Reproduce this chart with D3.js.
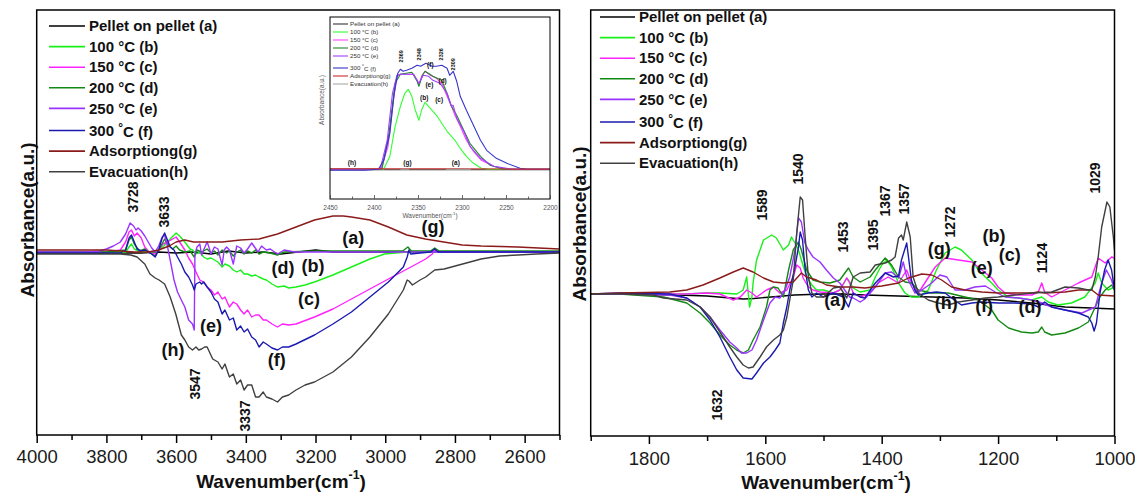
<!DOCTYPE html>
<html><head><meta charset="utf-8">
<script src="https://cdn.jsdelivr.net/npm/d3@7"></script>
<style>body{margin:0;background:#fff}svg{display:block}</style>
</head><body>
<svg id="c" width="1135" height="496"></svg>
<script>
// ---------- DATA ----------
const seriesLabels = ["Pellet on pellet (a)","100 °C (b)","150 °C (c)","200 °C (d)","250 °C (e)","300 °C (f)","Adsorptiong(g)","Evacuation(h)"];
const leftTicks = [4000,3800,3600,3400,3200,3000,2800,2600];
const leftMinor = [3900,3700,3500,3300,3100,2900,2700,2500];
const rightTicks = [1800,1600,1400,1200,1000];
const rightMinor = [1900,1700,1500,1300,1100];
const insetTicks = [2450,2400,2350,2300,2250,2200];
const insetMinor = [2425,2375,2325,2275,2225];

// left panel (OH region), [wavenumber, absorbance]
const L_a = [[4000,-0.01],[3900,-0.01],[3800,-0.01],[3700,-0.01],[3650,0],[3600,-0.01],[3550,0],[3500,-0.02],[3450,0.01],[3400,-0.01],[3350,0],[3300,-0.02],[3250,0],[3200,0.02],[3150,0],[3100,0],[3000,0],[2900,0],[2500,0]];
const L_b = [[4000,0],[3800,0],[3745,0],[3735,0.05],[3728,0.08],[3720,0.03],[3700,0],[3660,0],[3638,0.05],[3617,0.13],[3600,0.19],[3590,0.16],[3575,0.10],[3560,0.03],[3553,0.02],[3543,-0.02],[3532,0],[3521,-0.05],[3511,-0.07],[3500,-0.06],[3490,-0.08],[3480,-0.10],[3468,-0.15],[3460,-0.12],[3447,-0.14],[3436,-0.18],[3426,-0.20],[3415,-0.18],[3405,-0.22],[3395,-0.22],[3383,-0.24],[3372,-0.23],[3362,-0.25],[3350,-0.27],[3341,-0.28],[3325,-0.32],[3309,-0.35],[3290,-0.34],[3277,-0.36],[3256,-0.35],[3230,-0.33],[3203,-0.30],[3150,-0.23],[3097,-0.15],[3044,-0.07],[3002,-0.02],[2970,-0.01],[2937,0],[2500,0]];
const L_c = [[4000,0],[3800,0],[3760,0.02],[3745,0.10],[3735,0.20],[3728,0.22],[3720,0.16],[3712,0.19],[3700,0.14],[3690,0.05],[3675,-0.01],[3660,-0.02],[3650,0.02],[3638,0.08],[3625,0.10],[3615,0.12],[3600,0.15],[3590,0.10],[3575,0.02],[3564,-0.06],[3553,-0.12],[3543,-0.20],[3532,-0.28],[3521,-0.30],[3511,-0.35],[3500,-0.38],[3490,-0.43],[3480,-0.40],[3468,-0.47],[3460,-0.45],[3447,-0.55],[3436,-0.50],[3426,-0.52],[3415,-0.58],[3405,-0.62],[3395,-0.58],[3383,-0.65],[3372,-0.63],[3362,-0.63],[3350,-0.68],[3341,-0.68],[3325,-0.72],[3309,-0.75],[3295,-0.72],[3277,-0.73],[3256,-0.72],[3203,-0.65],[3150,-0.57],[3097,-0.47],[3044,-0.37],[2991,-0.27],[2937,-0.17],[2884,-0.07],[2865,-0.02],[2858,0.02],[2850,0],[2800,0],[2500,0]];
const L_d = [[4000,0],[3800,0],[3745,0.02],[3735,0.12],[3728,0.15],[3720,0.08],[3705,0.01],[3690,0.03],[3670,-0.02],[3660,-0.04],[3645,0.05],[3633,0.13],[3625,0.08],[3610,0.03],[3600,0.06],[3590,0.02],[3575,0],[3560,0.01],[3548,-0.05],[3540,0.02],[3527,0],[3511,0.03],[3500,-0.01],[3490,0.01],[3480,-0.03],[3468,0.02],[3455,-0.01],[3447,0.01],[3436,-0.04],[3426,0],[3415,0.02],[3405,-0.02],[3395,0.01],[3383,-0.01],[3372,0.02],[3362,-0.02],[3350,0],[3330,-0.01],[3309,-0.03],[3290,0],[3200,0.01],[3100,0.01],[2950,0.01],[2935,0.05],[2925,0.01],[2870,0.01],[2858,0.04],[2845,0.01],[2500,0.01]];
const L_e = [[4000,0],[3850,0],[3820,0.01],[3800,0.03],[3780,0.06],[3760,0.10],[3745,0.18],[3732,0.29],[3722,0.26],[3715,0.22],[3709,0.24],[3700,0.21],[3690,0.16],[3680,0.10],[3670,0.04],[3660,0],[3650,0.06],[3640,0.15],[3633,0.17],[3625,0.06],[3617,-0.08],[3606,-0.28],[3596,-0.40],[3585,-0.48],[3575,-0.55],[3564,-0.68],[3553,-0.72],[3548,-0.78],[3546,-0.02],[3540,0.05],[3532,0.08],[3527,-0.03],[3521,0.02],[3511,0.10],[3505,0.04],[3500,-0.02],[3490,0.05],[3480,0.03],[3468,-0.13],[3462,0.02],[3455,0.05],[3447,0.02],[3436,-0.12],[3426,0.06],[3415,0.04],[3405,-0.01],[3395,0.03],[3383,0.09],[3375,0.05],[3365,0],[3355,0.06],[3341,0.02],[3330,0.03],[3309,-0.02],[3290,0.02],[3260,0],[3200,0],[2500,0]];
const L_f = [[4000,-0.01],[3800,-0.01],[3760,-0.01],[3745,0.02],[3735,0.14],[3728,0.17],[3720,0.10],[3712,0.03],[3700,0.01],[3690,0.02],[3670,-0.02],[3660,-0.05],[3650,0.02],[3640,0.14],[3633,0.19],[3625,0.12],[3617,0.05],[3606,0.02],[3596,-0.05],[3585,-0.12],[3575,-0.20],[3564,-0.25],[3553,-0.33],[3548,-0.38],[3543,-0.32],[3532,-0.30],[3527,-0.32],[3521,-0.30],[3511,-0.35],[3500,-0.40],[3490,-0.47],[3480,-0.50],[3468,-0.62],[3460,-0.58],[3447,-0.68],[3436,-0.66],[3426,-0.78],[3415,-0.74],[3405,-0.80],[3395,-0.77],[3383,-0.85],[3372,-0.88],[3362,-0.95],[3350,-0.90],[3341,-0.92],[3325,-0.96],[3309,-0.98],[3295,-0.95],[3277,-0.95],[3256,-0.92],[3203,-0.83],[3150,-0.72],[3097,-0.60],[3044,-0.45],[2991,-0.30],[2948,-0.15],[2937,-0.05],[2932,0.02],[2927,-0.02],[2900,-0.01],[2870,0],[2858,0.03],[2848,0],[2800,0],[2500,0]];
const L_g = [[4000,0.02],[3900,0.02],[3800,0.02],[3720,0],[3680,0],[3650,0.02],[3620,0.06],[3600,0.10],[3575,0.12],[3550,0.10],[3520,0.10],[3468,0.10],[3415,0.12],[3362,0.13],[3309,0.18],[3256,0.25],[3203,0.32],[3150,0.36],[3120,0.36],[3097,0.35],[3044,0.32],[2991,0.25],[2938,0.17],[2885,0.13],[2832,0.10],[2779,0.07],[2725,0.06],[2620,0.05],[2500,0.03]];
const L_h = [[4000,-0.02],[3900,-0.02],[3800,-0.02],[3760,-0.02],[3730,-0.03],[3712,-0.05],[3690,-0.12],[3675,-0.22],[3660,-0.26],[3649,-0.28],[3633,-0.32],[3617,-0.45],[3601,-0.62],[3585,-0.83],[3575,-0.88],[3564,-0.95],[3553,-0.98],[3543,-0.95],[3535,-0.98],[3527,-0.97],[3518,-0.95],[3511,-0.95],[3495,-1.07],[3480,-1.10],[3468,-1.17],[3460,-1.12],[3447,-1.25],[3436,-1.22],[3426,-1.32],[3415,-1.28],[3405,-1.38],[3395,-1.33],[3383,-1.33],[3372,-1.45],[3362,-1.45],[3350,-1.40],[3341,-1.45],[3325,-1.47],[3309,-1.50],[3295,-1.45],[3277,-1.43],[3256,-1.38],[3230,-1.33],[3203,-1.30],[3150,-1.20],[3097,-1.05],[3044,-0.85],[2991,-0.62],[2948,-0.38],[2937,-0.28],[2932,-0.29],[2922,-0.33],[2900,-0.28],[2884,-0.25],[2858,-0.18],[2831,-0.17],[2778,-0.12],[2725,-0.07],[2672,-0.04],[2619,-0.03],[2566,-0.02],[2500,-0.01]];

// right panel (fingerprint region)
const R_a = [[1900,0],[1850,0],[1750,-0.01],[1700,-0.02],[1660,-0.04],[1638,-0.05],[1620,-0.045],[1590,-0.03],[1550,-0.01],[1500,0],[1470,0],[1429,-0.01],[1371,-0.02],[1314,-0.03],[1257,-0.04],[1200,-0.06],[1142,-0.09],[1085,-0.13],[1040,-0.14],[1000,-0.15]];
const R_b = [[1900,0],[1850,0],[1735,0],[1701,0.01],[1678,0.01],[1649,0],[1638,0.04],[1632,0.17],[1627,-0.13],[1623,-0.03],[1621,0.11],[1615,0.34],[1603,0.54],[1589,0.59],[1581,0.56],[1569,0.44],[1560,0.49],[1555,0.57],[1549,0.51],[1543,0.44],[1538,0.34],[1529,0.17],[1520,0.09],[1512,0.04],[1500,0.04],[1483,0.01],[1472,0.04],[1460,0.16],[1455,0.12],[1449,0.06],[1437,0.02],[1420,0.04],[1411,0.17],[1400,0.29],[1391,0.34],[1383,0.27],[1371,0.11],[1360,0.01],[1349,-0.03],[1337,-0.03],[1320,0.04],[1306,0.24],[1291,0.41],[1274,0.47],[1263,0.44],[1245,0.34],[1234,0.24],[1222,0.17],[1211,0.11],[1200,0.04],[1182,-0.03],[1165,-0.04],[1142,-0.06],[1125,-0.03],[1114,-0.08],[1097,-0.11],[1074,-0.09],[1051,-0.03],[1033,0.11],[1028,0.21],[1022,0.11],[1011,0.04],[1000,0.07]];
const R_c = [[1900,0],[1850,0],[1735,0],[1701,0.01],[1678,0],[1655,-0.06],[1643,-0.03],[1632,0.04],[1623,0.01],[1615,-0.03],[1598,0.04],[1586,0.07],[1575,0.01],[1563,0.04],[1552,0.17],[1546,0.29],[1540,0.26],[1535,0.16],[1526,0.07],[1518,0.04],[1506,0.02],[1483,0.01],[1472,0.04],[1460,0.16],[1455,0.11],[1449,0.01],[1437,-0.03],[1420,0.01],[1406,0.11],[1389,0.17],[1371,0.11],[1357,0.24],[1349,0.11],[1337,0.01],[1326,0.11],[1308,0.27],[1291,0.36],[1268,0.34],[1245,0.32],[1228,0.24],[1211,0.16],[1200,0.07],[1188,0.01],[1165,-0.01],[1142,-0.01],[1131,0.02],[1125,0.11],[1120,0.02],[1108,-0.03],[1085,0.04],[1062,0.11],[1039,0.17],[1028,0.36],[1016,0.31],[1005,0.37],[1000,0.36]];
const R_d = [[1900,0],[1850,0],[1775,-0.03],[1735,-0.09],[1712,-0.19],[1695,-0.29],[1678,-0.41],[1661,-0.51],[1649,-0.56],[1638,-0.59],[1629,-0.56],[1621,-0.46],[1609,-0.33],[1598,-0.13],[1592,0.04],[1586,0.07],[1578,0.06],[1569,-0.03],[1560,0.24],[1552,0.44],[1543,0.52],[1538,0.44],[1529,0.24],[1518,0.14],[1506,0.12],[1489,0.11],[1472,0.14],[1457,0.26],[1449,0.17],[1437,0.12],[1420,0.17],[1411,0.24],[1394,0.36],[1383,0.29],[1371,0.17],[1360,0.12],[1349,0.11],[1337,0.04],[1314,0.01],[1286,0.01],[1257,-0.03],[1234,-0.06],[1211,-0.16],[1200,-0.26],[1182,-0.34],[1160,-0.38],[1142,-0.39],[1131,-0.38],[1125,-0.33],[1120,-0.38],[1108,-0.41],[1085,-0.39],[1062,-0.34],[1045,-0.28],[1033,-0.13],[1025,-0.03],[1016,0.04],[1005,0.09],[1000,0.04]];
const R_e = [[1900,0],[1850,0],[1764,-0.01],[1735,-0.04],[1712,-0.13],[1695,-0.23],[1678,-0.36],[1661,-0.48],[1649,-0.54],[1641,-0.59],[1632,-0.59],[1623,-0.56],[1615,-0.46],[1603,-0.26],[1592,-0.09],[1583,-0.03],[1575,-0.04],[1566,0.04],[1558,0.17],[1549,0.44],[1543,0.76],[1538,0.72],[1532,0.51],[1526,0.44],[1518,0.37],[1506,0.32],[1495,0.24],[1483,0.16],[1472,0.11],[1460,0.01],[1455,-0.03],[1449,-0.04],[1437,-0.08],[1429,-0.05],[1411,0.07],[1394,0.21],[1383,0.22],[1371,0.16],[1363,0.32],[1357,0.17],[1343,0.01],[1331,0.04],[1314,0.11],[1300,0.19],[1288,0.17],[1274,0.04],[1257,0.04],[1240,0.07],[1222,0.08],[1205,0.02],[1188,-0.03],[1165,-0.04],[1142,-0.06],[1125,-0.09],[1108,-0.13],[1085,-0.16],[1056,-0.19],[1033,-0.13],[1022,0.11],[1014,0.24],[1005,0.14],[1000,0.04]];
const R_f = [[1900,0],[1850,0.01],[1764,0],[1735,-0.04],[1712,-0.13],[1695,-0.26],[1678,-0.43],[1661,-0.63],[1649,-0.76],[1638,-0.84],[1623,-0.85],[1615,-0.79],[1603,-0.69],[1592,-0.63],[1583,-0.56],[1575,-0.49],[1569,-0.29],[1563,-0.13],[1558,0.04],[1549,0.27],[1543,0.47],[1540,0.62],[1536,0.54],[1532,0.27],[1526,0.04],[1520,-0.03],[1512,0.01],[1500,-0.03],[1483,0.01],[1466,-0.03],[1457,-0.13],[1449,0.01],[1437,-0.03],[1429,-0.04],[1411,0.11],[1394,0.21],[1380,0.17],[1371,0.18],[1366,0.34],[1357,0.51],[1349,0.14],[1343,0.04],[1337,-0.01],[1320,0.01],[1306,0.02],[1291,0.01],[1280,-0.04],[1263,-0.11],[1245,-0.09],[1228,-0.08],[1200,-0.09],[1171,-0.09],[1142,-0.10],[1131,-0.13],[1120,-0.08],[1108,-0.13],[1085,-0.16],[1062,-0.19],[1045,-0.23],[1039,-0.29],[1035,-0.37],[1031,-0.29],[1025,0.01],[1017,0.24],[1011,0.34],[1005,0.24],[1000,0.04]];
const R_g = [[1900,0],[1850,0.01],[1764,0.02],[1735,0.04],[1707,0.09],[1678,0.16],[1655,0.22],[1638,0.26],[1621,0.22],[1603,0.16],[1586,0.12],[1569,0.11],[1552,0.12],[1538,0.21],[1529,0.17],[1512,0.14],[1495,0.09],[1472,0.07],[1449,0.07],[1429,0.06],[1400,0.08],[1371,0.11],[1354,0.16],[1331,0.20],[1314,0.19],[1297,0.14],[1280,0.07],[1257,0.04],[1228,0.02],[1200,0.01],[1142,0.01],[1131,0.02],[1120,0.01],[1085,0.02],[1062,0.04],[1039,0.04],[1028,-0.01],[1000,-0.02]];
const R_h = [[1900,0],[1850,0],[1792,-0.01],[1775,-0.04],[1735,-0.06],[1712,-0.13],[1695,-0.23],[1678,-0.38],[1661,-0.53],[1649,-0.63],[1638,-0.71],[1629,-0.74],[1621,-0.73],[1609,-0.63],[1598,-0.53],[1586,-0.46],[1575,-0.41],[1569,-0.36],[1563,-0.23],[1558,-0.06],[1552,0.14],[1546,0.61],[1540,0.97],[1536,0.94],[1532,0.61],[1526,0.17],[1520,0.01],[1512,-0.03],[1500,-0.03],[1483,0.06],[1472,0.07],[1460,-0.04],[1449,0.17],[1437,0.21],[1420,0.22],[1411,0.29],[1394,0.31],[1383,0.34],[1377,0.37],[1371,0.56],[1366,0.59],[1363,0.54],[1357,0.72],[1351,0.57],[1346,0.17],[1337,0.01],[1320,-0.06],[1303,-0.09],[1286,-0.11],[1268,-0.08],[1245,-0.06],[1222,-0.04],[1200,-0.03],[1171,-0.01],[1142,0.01],[1108,0.02],[1085,0.07],[1062,0.06],[1045,0.04],[1039,0.04],[1033,0.17],[1028,0.37],[1022,0.67],[1013,0.92],[1008,0.87],[1002,0.57],[1000,0.44]];

// inset (CO2 region)
const I_a = [[2450,-0.005],[2200,-0.005]];
const I_b = [[2450,0],[2389,0],[2382,0.13],[2376,0.43],[2370,0.63],[2365,0.76],[2361,0.80],[2357,0.73],[2353,0.59],[2349,0.49],[2346,0.59],[2342,0.67],[2336,0.61],[2329,0.54],[2323,0.46],[2317,0.38],[2312,0.33],[2308,0.29],[2302,0.21],[2295,0.13],[2287,0.06],[2278,0.01],[2270,0],[2200,0]];
const I_c = [[2450,0],[2392,0],[2384,0.23],[2378,0.69],[2374,0.93],[2370,0.95],[2355,0.95],[2351,0.89],[2349,0.84],[2346,0.93],[2342,0.98],[2336,0.94],[2329,0.91],[2323,0.86],[2317,0.73],[2312,0.63],[2308,0.54],[2302,0.43],[2295,0.29],[2287,0.18],[2278,0.09],[2264,0.03],[2249,0],[2200,0]];
const I_d = [[2450,0],[2391,0],[2383,0.36],[2376,0.86],[2370,0.95],[2357,0.97],[2351,0.88],[2349,0.83],[2345,0.94],[2342,0.98],[2333,0.93],[2323,0.89],[2317,0.76],[2312,0.63],[2306,0.54],[2298,0.39],[2291,0.26],[2279,0.13],[2268,0.04],[2253,0],[2200,0]];
const I_e = [[2450,0],[2393,0],[2385,0.29],[2379,0.76],[2374,0.94],[2370,0.95],[2355,0.95],[2349,0.86],[2344,0.94],[2338,0.93],[2333,0.89],[2325,0.86],[2317,0.76],[2312,0.63],[2310,0.64],[2306,0.51],[2298,0.38],[2291,0.23],[2279,0.11],[2264,0.03],[2242,0],[2200,0]];
const I_f = [[2450,-0.01],[2410,-0.01],[2395,0],[2389,0.09],[2382,0.36],[2377,0.76],[2373,0.96],[2370,1.0],[2367,0.98],[2363,0.99],[2357,1.01],[2351,1.04],[2347,1.03],[2341,1.06],[2334,1.03],[2329,1.03],[2323,1.04],[2317,1.01],[2314,0.94],[2310,0.98],[2306,0.88],[2302,0.73],[2295,0.59],[2287,0.44],[2279,0.29],[2272,0.19],[2261,0.11],[2249,0.06],[2234,0.01],[2226,0],[2200,0]];
const I_g = [[2450,0.006],[2300,0.006],[2240,0.002],[2200,0.002]];
const I_h = [[2370,0],[2360,0],null,[2318,0],[2290,0]];

// annotations [text, wavenumber, absorbance]
const leftPeakLabels = [["3728",3724,0.55],["3633",3635,0.40],["3547",3546,-1.32],["3337",3402,-1.64]];
const leftCurveLabels = [["(a)",3092,0.14],["(g)",2863,0.25],["(d)",3293,-0.16],["(b)",3207,-0.14],["(c)",3219,-0.47],["(e)",3500,-0.74],["(f)",3311,-1.08],["(h)",3609,-0.98]];
const rightPeakLabels = [["1540",1544,1.25],["1589",1606,0.89],["1453",1466,0.57],["1395",1415,0.59],["1367",1394,0.93],["1357",1362,0.95],["1272",1283,0.72],["1124",1125,0.36],["1029",1033,1.16],["1632",1683,-1.11]];
const rightCurveLabels = [["(a)",1480,-0.06],["(g)",1301,0.45],["(b)",1207,0.58],["(c)",1180,0.39],["(e)",1228,0.26],["(h)",1289,-0.09],["(f)",1224,-0.12],["(d)",1145,-0.13]];
const insetPeakLabels = [["2369",2369,1.13],["2348",2349,1.15],["2326",2324,1.15],["2309",2310,1.05]];
const insetCurveLabels = [["(f)",2336,1.05],["(e)",2337,0.85],["(d)",2322,0.89],["(b)",2343,0.72],["(c)",2326,0.70],["(h)",2425,0.07],["(g)",2362,0.07],["(a)",2307,0.07]];

// ---------- STYLE ----------
const colors = ["#000000","#19f019","#ff22ff","#138a13","#9933ff","#1a1ab0","#8b1a1a","#404040"];
const insetColors = ["#333333","#33ff33","#ff44ff","#22882a","#a040ff","#3535cc","#cc2a2a","#a8a8a8"];
const FONT = "'Liberation Sans', Arial, Helvetica, sans-serif";

const svg = d3.select("#c").style("font-family", FONT);

function makePanel(id, box, xDom, yDom){
  const x = d3.scaleLinear().domain(xDom).range([box.x0, box.x1]);
  const y = d3.scaleLinear().domain(yDom).range([box.y1, box.y0]);
  svg.append("clipPath").attr("id", id).append("rect")
    .attr("x", box.x0).attr("y", box.y0).attr("width", box.x1-box.x0).attr("height", box.y1-box.y0);
  const g = svg.append("g");
  return {x, y, g, box, id};
}
function drawSeries(p, data, color, w){
  const line = d3.line().defined(d => d != null).x(d => p.x(d[0])).y(d => p.y(d[1]));
  p.g.append("path").datum(data).attr("d", line).attr("fill","none")
    .attr("stroke", color).attr("stroke-width", w).attr("stroke-linejoin","round")
    .attr("clip-path", `url(#${p.id})`);
}
function frame(p, sw){
  p.g.append("rect").attr("x", p.box.x0).attr("y", p.box.y0)
    .attr("width", p.box.x1-p.box.x0).attr("height", p.box.y1-p.box.y0)
    .attr("fill","none").attr("stroke","#000").attr("stroke-width", sw);
}
function bottomAxis(p, major, minor, pad){
  const gM = p.g.append("g").attr("transform", `translate(0,${p.box.y1})`)
    .call(d3.axisBottom(p.x).tickValues(major).tickSize(8).tickPadding(pad).tickFormat(d3.format("d")));
  gM.select(".domain").remove();
  gM.selectAll("line").attr("stroke","#000").attr("stroke-width",1.5);
  gM.selectAll("text").attr("font-size","18.5px").attr("fill","#1a1a1a").attr("font-family",FONT);
  const gm = p.g.append("g").attr("transform", `translate(0,${p.box.y1})`)
    .call(d3.axisBottom(p.x).tickValues(minor).tickSize(5).tickFormat(""));
  gm.select(".domain").remove();
  gm.selectAll("line").attr("stroke","#000").attr("stroke-width",1.5);
}
function peakLabels(p, arr, size){
  arr.forEach(([t, wx, v]) => {
    p.g.append("text").attr("transform", `translate(${p.x(wx)},${p.y(v)}) rotate(-90)`)
      .attr("text-anchor","middle").attr("dy","0.36em").attr("font-weight","bold")
      .attr("font-size", size).attr("fill","#111").text(t);
  });
}
function curveLabels(p, arr, size){
  arr.forEach(([t, wx, v]) => {
    p.g.append("text").attr("x", p.x(wx)).attr("y", p.y(v))
      .attr("text-anchor","middle").attr("dy","0.35em").attr("font-weight","bold")
      .attr("font-size", size).attr("fill","#111").text(t);
  });
}
function legend(g, x0, x1, tx, y0, step, extra, size, cols, lw, weight, fill){
  seriesLabels.forEach((lab, i) => {
    const yy = y0 + i*step + (i >= 5 ? extra : 0);
    g.append("line").attr("x1", x0).attr("x2", x1).attr("y1", yy).attr("y2", yy)
      .attr("stroke", cols[i]).attr("stroke-width", lw);
    const t = g.append("text").attr("x", tx).attr("y", yy).attr("dy","0.35em")
      .attr("font-size", size).attr("font-weight", weight).attr("fill", fill);
    if (i === 5) {
      const parts = lab.split("°");
      t.append("tspan").text(parts[0]);
      t.append("tspan").attr("dy", "-0.35em").attr("font-size", "0.8em").text("°");
      t.append("tspan").attr("dy", "0.35em").text(parts[1]);
    } else t.text(lab);
  });
}
function xTitle(x, y, size){
  const t = svg.append("text").attr("x", x).attr("y", y).attr("text-anchor","middle")
    .attr("font-weight","bold").attr("font-size", size).attr("fill","#111");
  t.append("tspan").text("Wavenumber(cm");
  t.append("tspan").attr("dy", -size*0.45).attr("font-size", size*0.65).text("-1");
  t.append("tspan").attr("dy", size*0.45).text(")");
  return t;
}
function yTitle(x, y, size, weight, fill){
  svg.append("text").attr("transform", `translate(${x},${y}) rotate(-90)`)
    .attr("text-anchor","middle").attr("dy","0.35em").attr("font-weight", weight)
    .attr("font-size", size).attr("fill", fill).text("Absorbance(a.u.)");
}

// ---------- LEFT PANEL ----------
const left = makePanel("clipL", {x0:36.7, x1:559.5, y0:10, y1:435}, [4000,2500], [-1.83,2.42]);
[L_a,L_b,L_c,L_d,L_e,L_f,L_g,L_h].forEach((d,i) => drawSeries(left, d, colors[i], 1.4));
frame(left, 1.5);
bottomAxis(left, leftTicks, leftMinor, 7);
peakLabels(left, leftPeakLabels, "14px");
curveLabels(left, leftCurveLabels, "18px");
legend(left.g, 49, 85, 89, 26, 20.6, 1.5, "15px", colors, 1.6, "bold", "#111");
xTitle(281, 488, 19);
yTitle(27.5, 220, "19px", "bold", "#111");

// ---------- INSET ----------
const inset = makePanel("clipI", {x0:330, x1:550, y0:17, y1:199}, [2450,2200], [-0.297,1.523]);
inset.g.append("rect").attr("x",330).attr("y",17).attr("width",220).attr("height",182).attr("fill","#fff");
[I_a,I_b,I_c,I_d,I_e,I_f,I_g,I_h].forEach((d,i) => drawSeries(inset, d, insetColors[i], 1.1));
frame(inset, 1);
{
  const gM = inset.g.append("g").attr("transform", `translate(0,199)`)
    .call(d3.axisBottom(inset.x).tickValues(insetTicks).tickSize(-4).tickPadding(6).tickFormat(d3.format("d")));
  gM.select(".domain").remove();
  gM.selectAll("line").attr("stroke","#444").attr("stroke-width",0.8);
  gM.selectAll("text").attr("font-size","6.5px").attr("fill","#555").attr("font-family",FONT);
  const gm = inset.g.append("g").attr("transform", `translate(0,199)`)
    .call(d3.axisBottom(inset.x).tickValues(insetMinor).tickSize(-2.5).tickFormat(""));
  gm.select(".domain").remove();
  gm.selectAll("line").attr("stroke","#444").attr("stroke-width",0.8);
}
peakLabels(inset, insetPeakLabels, "5.5px");
curveLabels(inset, insetCurveLabels, "6.5px");
legend(inset.g, 333, 348, 350, 24, 8, 4, "6.2px", insetColors, 1.1, "normal", "#333");
xTitle(430, 218, 6.5).attr("font-weight","normal").attr("fill","#555");
yTitle(322, 100, "6.5px", "normal", "#555");

// ---------- RIGHT PANEL ----------
const right = makePanel("clipR", {x0:590.7, x1:1114.5, y0:10, y1:436}, [1900,1000], [-1.42,2.84]);
[R_a,R_b,R_c,R_d,R_e,R_f,R_g,R_h].forEach((d,i) => drawSeries(right, d, colors[i], 1.4));
frame(right, 1.5);
bottomAxis(right, rightTicks, rightMinor, 8);
peakLabels(right, rightPeakLabels, "14px");
curveLabels(right, rightCurveLabels, "18px");
legend(right.g, 600, 635, 639, 17, 20.6, 2, "15px", colors, 1.6, "bold", "#111");
xTitle(826, 489, 19);
yTitle(579, 224, "19px", "bold", "#111");
</script>
</body></html>
